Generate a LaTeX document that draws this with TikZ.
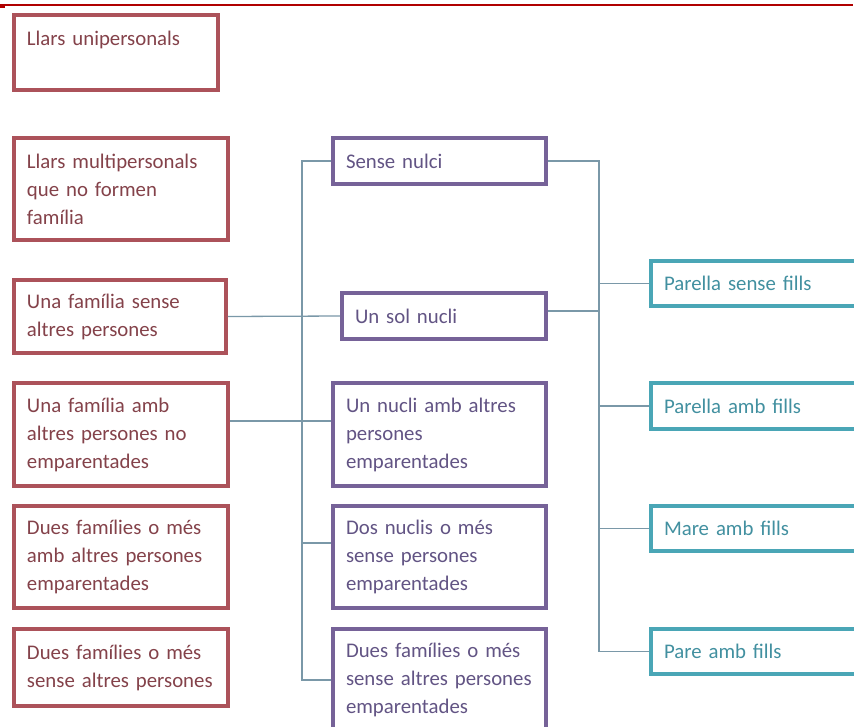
\documentclass[tikz,border=0pt]{standalone}
\usepackage{fontspec}
\setmainfont{Carlito}[WordSpace=0.85]
\definecolor{redb}{RGB}{172,82,90}
\definecolor{redt}{RGB}{132,66,74}
\definecolor{purb}{RGB}{118,98,152}
\definecolor{purt}{RGB}{98,84,132}
\definecolor{teab}{RGB}{74,166,182}
\definecolor{teat}{RGB}{66,144,160}
\definecolor{connc}{RGB}{122,152,168}
\definecolor{topred}{RGB}{176,0,0}
\tikzset{
  boxbase/.style={draw, rectangle, line width=3.8pt, inner xsep=13pt, inner ysep=0pt,
    align=left, font=\fontsize{20.8}{28}\selectfont},
  redbox/.style={boxbase, draw=redb, text=redt},
  purbox/.style={boxbase, draw=purb, text=purt},
  teabox/.style={boxbase, draw=teab, text=teat},
  conn/.style={draw=connc, line width=1.3pt},
}
\begin{document}
\begin{tikzpicture}[x=1pt,y=-1pt]
\useasboundingbox (0,0) rectangle (854,726);
\fill[white] (0,0) rectangle (854,726);
\draw[topred, line width=1.6pt] (0,5) -- (853,5);
\draw[topred, line width=3pt] (0,6) -- (5,6);
% left red boxes
\node[redbox, minimum width=204pt, minimum height=75pt, text width=178pt] (r1) at (116,52.5) {Llars unipersonals\\\mbox{}};
\node[redbox, minimum width=214pt, minimum height=102pt, text width=188pt] (r2) at (121,189) {Llars multipersonals\\que no formen\\família};
\node[redbox, minimum width=212pt, minimum height=73pt, text width=186pt] (r3) at (120,316.5) {Una família sense\\altres persones};
\node[redbox, minimum width=214pt, minimum height=103pt, text width=188pt] (r4) at (121,434.5) {Una família amb\\altres persones no\\emparentades};
\node[redbox, minimum width=214pt, minimum height=102pt, text width=188pt] (r5) at (121,557) {Dues famílies o més\\amb altres persones\\emparentades};
\node[redbox, minimum width=214pt, minimum height=77pt, text width=188pt] (r6) at (121,667.5) {Dues famílies o més\\sense altres persones};
% middle purple boxes
\node[purbox, minimum width=213pt, minimum height=46pt, text width=187pt] (pA) at (439.5,161) {Sense nulci};
\node[purbox, minimum width=204pt, minimum height=46pt, text width=178pt] (pB) at (444,316) {Un sol nucli};
\node[purbox, minimum width=213pt, minimum height=103pt, text width=187pt] (pC) at (439.5,434.5) {Un nucli amb altres\\persones\\emparentades};
\node[purbox, minimum width=213pt, minimum height=102pt, text width=187pt] (pD) at (439.5,557) {Dos nuclis o més\\sense persones\\emparentades};
\node[purbox, minimum width=213pt, minimum height=102pt, text width=187pt] (pE) at (439.5,680) {Dues famílies o més\\sense altres persones\\emparentades};
% right teal boxes
\node[teabox, minimum width=219pt, minimum height=45pt, text width=193pt] (t1) at (760.5,283.5) {Parella sense fills};
\node[teabox, minimum width=219pt, minimum height=46pt, text width=193pt] (t2) at (760.5,406) {Parella amb fills};
\node[teabox, minimum width=219pt, minimum height=45pt, text width=193pt] (t3) at (760.5,528.5) {Mare amb fills};
\node[teabox, minimum width=219pt, minimum height=45pt, text width=193pt] (t4) at (760.5,651.5) {Pare amb fills};
% buses
\coordinate (lb) at (302,0);
\coordinate (rb) at (599,0);
\draw[conn] (pA.west) -- (pA.west -| lb) -- (pE.west -| lb) -- (pE.west);
\draw[conn] ([yshift=14pt]pD.west -| lb) -- ([yshift=14pt]pD.west);
\draw[conn] (r3.east) -- (pB.west);
\draw[conn] ([yshift=13.5pt]r4.east) -- ([yshift=13.5pt]pC.west);
\draw[conn] (pA.east) -- (pA.east -| rb) -- (t4.west -| rb) -- (t4.west);
\draw[conn] ([yshift=5pt]pB.east) -- ([yshift=5pt]pB.east -| rb);
\draw[conn] (t1.west -| rb) -- (t1.west);
\draw[conn] (t2.west -| rb) -- (t2.west);
\draw[conn] (t3.west -| rb) -- (t3.west);
\end{tikzpicture}
\end{document}
